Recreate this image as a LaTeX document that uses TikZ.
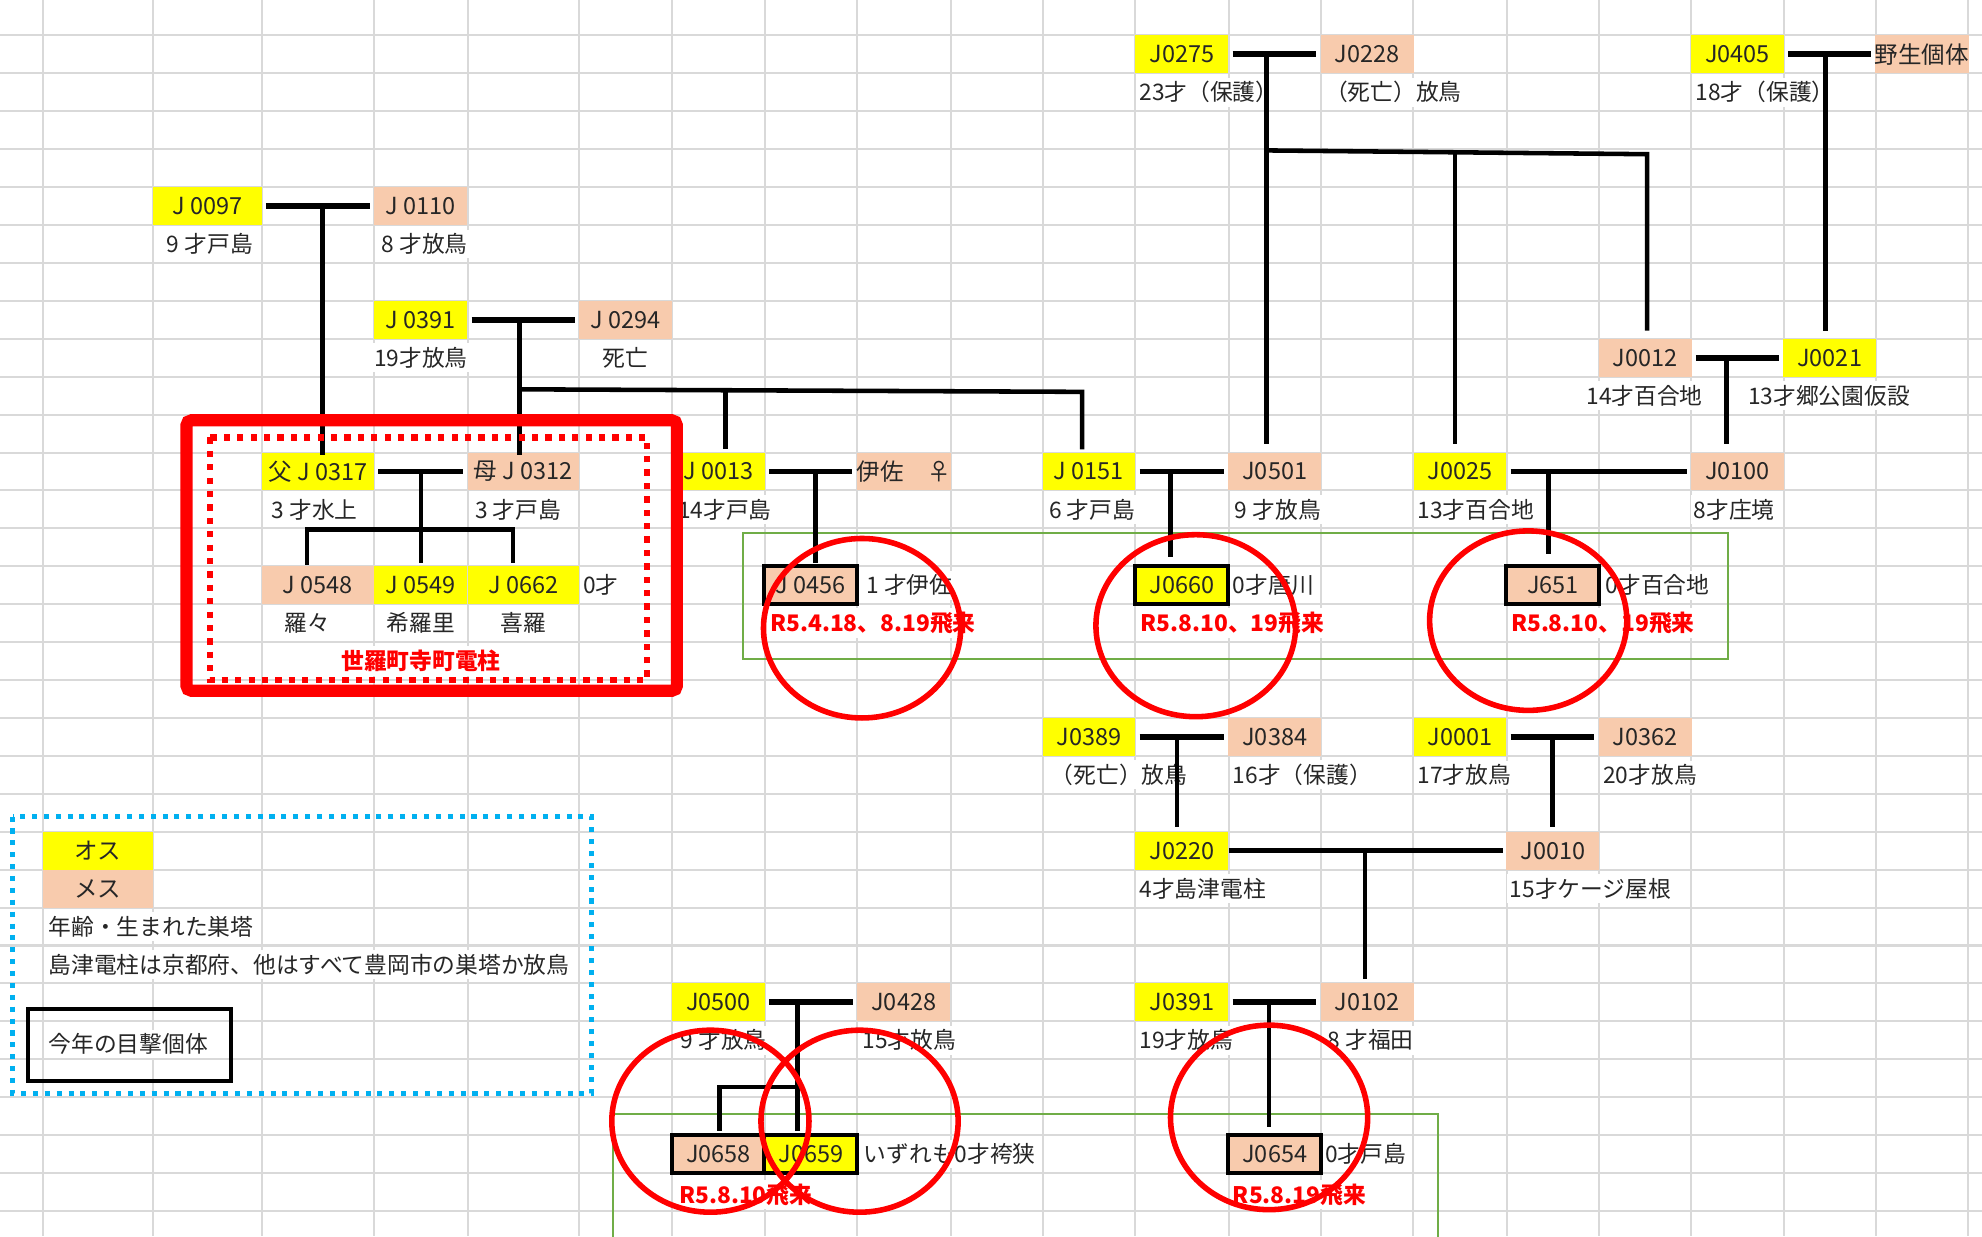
\documentclass[tikz,border=0pt]{standalone}
\usepackage{fontspec}
\setmainfont{Noto Sans CJK JP}
\usepackage{tikz}
\usetikzlibrary{calc}

\definecolor{malefill}{HTML}{FFFF00}
\definecolor{femalefill}{HTML}{F8CBAD}
\definecolor{gridgray}{HTML}{D9D9D9}
\definecolor{markred}{HTML}{FF0000}
\definecolor{boxgreen}{HTML}{70AD47}
\definecolor{legendblue}{HTML}{00B0F0}
\definecolor{ink}{HTML}{262626}

\tikzset{
    box/.style={minimum width=#1,minimum height=15pt,inner sep=0pt,
        text=ink,font=\fontsize{9.3}{10}\selectfont},
    box/.default=36.75pt,
    male/.style={box=#1,fill=malefill},
    male/.default=36.75pt,
    female/.style={box=#1,fill=femalefill},
    female/.default=36.75pt,
    seen/.style={draw=black,line width=1.6pt},
    lab/.style={fill=white,inner xsep=1pt,inner ysep=1.5pt,text=ink,
        font=\fontsize{9}{10}\selectfont},
    note/.style={fill=white,inner xsep=1pt,inner ysep=1.5pt,text=markred,
        font=\bfseries\fontsize{9}{10}\selectfont},
    couple/.style={line width=2.3pt,shorten <=1.5pt,shorten >=1.5pt},
    descent/.style={line width=1.8pt,shorten >=1pt},
    gridline/.style={gridgray,line width=0.8pt},
    sighting/.style={markred,line width=2.2pt}
}

\begin{document}
\begin{tikzpicture}[x=0.5pt,y=-0.5pt]

\fill[white] (0,0) rectangle (1568,978);
\useasboundingbox (0,0) rectangle (1568,978);
\clip (0,0) rectangle (1568,978);

\foreach \gx in {34,121,207,296,370,458,532,605,678,752,825,898,972,1045,1118,1192,1265,1338,1411,1484,1557}
    \draw[gridline] (\gx,0) -- (\gx,978);
\foreach \gy in {28,58,...,958}
    \draw[gridline] (0,\gy) -- (1568,\gy);

\node[male] (J0275) at (935,43) {J0275};
\node[female] (J0228) at (1081.5,43) {J0228};
\node[male] (J0405) at (1374.5,43) {J0405};
\node[female] (W405) at (1520.5,43) {野生個体};
\node[male=43pt] (J0097) at (164,163) {J 0097};
\node[female] (J0110) at (333,163) {J 0110};
\node[male] (J0391) at (333,253) {J 0391};
\node[female] (J0294) at (495,253) {J 0294};
\node[female] (J0012) at (1301.5,283) {J0012};
\node[male] (J0021) at (1447.5,283) {J0021};
\node[male=44.5pt] (J0317) at (251.5,373) {父 J 0317};
\node[female=44pt] (J0312) at (414,373) {母 J 0312};
\node[male] (J0013) at (568.5,373) {J 0013};
\node[female] (ISA) at (715,373) {伊佐　♀};
\node[male] (J0151) at (861.5,373) {J 0151};
\node[female] (J0501) at (1008.5,373) {J0501};
\node[male] (J0025) at (1155,373) {J0025};
\node[female] (J0100) at (1374.5,373) {J0100};
\node[female=44.5pt] (J0548) at (251.5,463) {J 0548};
\node[male] (J0549) at (333,463) {J 0549};
\node[male=44pt] (J0662) at (414,463) {J 0662};
\node[female,seen] (J0456) at (641.5,463) {J 0456};
\node[male,seen] (J0660) at (935,463) {J0660};
\node[female,seen] (J651) at (1228.5,463) {J651};
\node[male] (J0389) at (861.5,583) {J0389};
\node[female] (J0384) at (1008.5,583) {J0384};
\node[male] (J0001) at (1155,583) {J0001};
\node[female] (J0362) at (1301.5,583) {J0362};
\node[male] (J0220) at (935,673) {J0220};
\node[female] (J0010) at (1228.5,673) {J0010};
\node[male] (J0500) at (568.5,793) {J0500};
\node[female] (J0428) at (715,793) {J0428};
\node[male] (J0391b) at (935,793) {J0391};
\node[female] (J0102) at (1081.5,793) {J0102};
\node[female,seen] (J0658) at (568.5,913) {J0658};
\node[male,seen] (J0659) at (641.5,913) {J0659};
\node[female,seen] (J0654) at (1008.5,913) {J0654};

\node[lab,anchor=west] (J0275a) at (899,73) {23才（保護）};
\node[lab,anchor=west] (J0228a) at (1046,73) {（死亡）放鳥};
\node[lab,anchor=west] (J0405a) at (1339,73) {18才（保護）};
\node[lab] (J0097a) at (166,193) {9 才戸島};
\node[lab] (J0110a) at (336,193) {8 才放鳥};
\node[lab] (J0391a) at (333,283) {19才放鳥};
\node[lab] (J0294a) at (495,283) {死亡};
\node[lab] (J0012a) at (1301,313) {14才百合地};
\node[lab] (J0021a) at (1447,313) {13才郷公園仮設};
\node[lab] (J0317a) at (249,403) {3 才水上};
\node[lab] (J0312a) at (410,403) {3 才戸島};
\node[lab,anchor=west] (J0013a) at (534,403) {14才戸島};
\node[lab] (J0151a) at (864,403) {6 才戸島};
\node[lab] (J0501a) at (1011,403) {9 才放鳥};
\node[lab,anchor=west] (J0025a) at (1119,403) {13才百合地};
\node[lab] (J0100a) at (1372,403) {8才庄境};
\node[lab,anchor=west] (J0662a) at (459,463) {0才};
\node[lab,anchor=west] (J0456a) at (683,463) {1 才伊佐};
\node[lab,anchor=west] (J0660a) at (973,463) {0才唐川};
\node[lab,anchor=west] (J651a) at (1268,463) {0才百合地};
\node[lab] (J0548a) at (243,493) {羅々};
\node[lab] (J0549a) at (333,493) {希羅里};
\node[lab] (J0662b) at (414,493) {喜羅};
\node[lab,anchor=west] (J0389a) at (829,613) {（死亡）放鳥};
\node[lab,anchor=west] (J0384a) at (973,613) {16才（保護）};
\node[lab,anchor=west] (J0001a) at (1119,613) {17才放鳥};
\node[lab,anchor=west] (J0362a) at (1266,613) {20才放鳥};
\node[lab,anchor=west] (J0220a) at (899,703) {4才島津電柱};
\node[lab,anchor=west] (J0010a) at (1192,703) {15才ケージ屋根};
\node[lab,anchor=west] (J0500a) at (536,823) {9 才放鳥};
\node[lab,anchor=west] (J0428a) at (680,823) {15才放鳥};
\node[lab,anchor=west] (J0391c) at (899,823) {19才放鳥};
\node[lab,anchor=west] (J0102a) at (1048,823) {8 才福田};
\node[lab,anchor=west] (J0659a) at (681,913) {いずれも0才袴狭};
\node[lab,anchor=west] (J0654a) at (1046,913) {0才戸島};

\node[note,anchor=west] (J0456n) at (607,493) {R5.4.18、8.19飛来};
\node[note,anchor=west] (J0660n) at (900,493) {R5.8.10、19飛来};
\node[note,anchor=west] (J651n) at (1193,493) {R5.8.10、19飛来};
\node[note] (SERA) at (333,523) {世羅町寺町電柱};
\node[note,anchor=west] (J0658n) at (535,945) {R5.8.10飛来};
\node[note,anchor=west] (J0654n) at (973,945) {R5.8.19飛来};

\node[male=43.5pt] (LOSU) at (77.5,673) {オス};
\node[female=43.5pt] (LMESU) at (77.5,703) {メス};
\node[lab,anchor=west] (LAGE) at (36,733) {年齢・生まれた巣塔};
\node[lab,anchor=west] (LPLACE) at (36,763) {島津電柱は京都府、他はすべて豊岡市の巣塔か放鳥};
\node[lab,anchor=west] (LSEEN) at (36,826) {今年の目撃個体};
\draw[line width=1.6pt] (22,798) rectangle (183,855);

\draw[boxgreen,line width=0.8pt] (588,422) rectangle (1367,521);
\draw[boxgreen,line width=0.8pt] (485,881) rectangle (1138,1000);

\draw[couple] (J0275) -- (J0228);
\draw[couple] (J0405) -- (W405);
\draw[couple] (J0097) -- (J0110);
\draw[couple] (J0391) -- (J0294);
\draw[couple] (J0012) -- (J0021);
\draw[couple] (J0317) -- (J0312);
\draw[couple] (J0013) -- (ISA);
\draw[couple] (J0151) -- (J0501);
\draw[couple] (J0025) -- (J0100);
\draw[couple] (J0389) -- (J0384);
\draw[couple] (J0001) -- (J0362);
\draw[descent] (J0220) -- (J0010);
\draw[couple] (J0500) -- (J0428);
\draw[couple] (J0391b) -- (J0102);

\coordinate (k1) at (1002,43);
\coordinate (k2) at (1002,119);
\coordinate (k3) at (1151,120);
\coordinate (k4) at (1303,122);
\draw[descent,shorten >=3pt] (k1) -- (k1 |- J0501.north);
\draw[descent,shorten >=3pt] (k2) -- (k4) -- (k4 |- J0012.north);
\draw[descent,shorten >=3pt] (k3) -- (k3 |- J0025.north);
\coordinate (k5) at (1444,43);
\draw[descent,shorten >=3pt] (k5) -- (k5 |- J0021.north);
\coordinate (k6) at (1366,283);
\draw[descent,shorten >=3pt] (k6) -- (k6 |- J0100.north);
\coordinate (k7) at (1225,373);
\draw[descent,shorten >=4pt] (k7) -- (k7 |- J651.north);
\coordinate (k8) at (926,373);
\draw[descent,shorten >=3pt] (k8) -- (k8 |- J0660.north);
\coordinate (k9) at (645,373);
\draw[descent,shorten >=0.5pt] (k9) -- (k9 |- J0456.north);
\coordinate (k10) at (255,163);
\draw[descent,shorten >=-1pt] (k10) -- (k10 |- J0317.north);
\coordinate (k11) at (411,253);
\draw[descent,shorten >=-1pt] (k11) -- (k11 |- J0312.north);
\coordinate (k12) at (411,308);
\coordinate (k13) at (574,308);
\coordinate (k14) at (856,310);
\draw[descent] (k12) -- (k14) -- (k14 |- J0151.north);
\draw[descent] (k13) -- (k13 |- J0013.north);
\coordinate (k15) at (333,373);
\draw[descent] (k15) -- (k15 |- J0549.north);
\coordinate (k16) at (243,419);
\coordinate (k17) at (406,419);
\draw[descent,shorten <=0.5pt] (k16 |- J0548.north) -- (k16) -- (k17) -- (k17 |- J0662.north);
\coordinate (k18) at (931,583);
\draw[descent,shorten >=1.5pt] (k18) -- (k18 |- J0220.north);
\coordinate (k19) at (1228,583);
\draw[descent,shorten >=1.5pt] (k19) -- (k19 |- J0010.north);
\coordinate (k20) at (1080,674);
\draw[descent,shorten >=1.5pt] (k20) -- (k20 |- J0102.north);
\coordinate (k21) at (1004,793);
\draw[descent,shorten >=2.5pt] (k21) -- (k21 |- J0654.north);
\coordinate (k22) at (631,793);
\coordinate (k23) at (631,860);
\coordinate (k24) at (569,860);
\draw[descent] (k22) -- (k22 |- J0659.north);
\draw[descent] (k23) -- (k24) -- (k24 |- J0658.north);

\draw[markred,line width=4.8pt,rounded corners=2pt] (147.5,332.5) rectangle (535.5,546.5);
\draw[markred,line width=2.5pt,dash pattern=on 2.5pt off 2.8pt] (166,346) rectangle (512,538);
\draw[legendblue,line width=2pt,dash pattern=on 2pt off 2.7pt] (10,646) rectangle (468,865);

\draw[sighting] (682,497) ellipse [x radius=78,y radius=71];
\draw[sighting] (946,495) ellipse [x radius=79,y radius=72];
\draw[sighting] (1209,491) ellipse [x radius=78,y radius=71];
\draw[sighting] (562,887) ellipse [x radius=78,y radius=72];
\draw[sighting] (680,887) ellipse [x radius=78,y radius=72];
\draw[sighting] (1004,884) ellipse [x radius=78,y radius=73];

\end{tikzpicture}
\end{document}
